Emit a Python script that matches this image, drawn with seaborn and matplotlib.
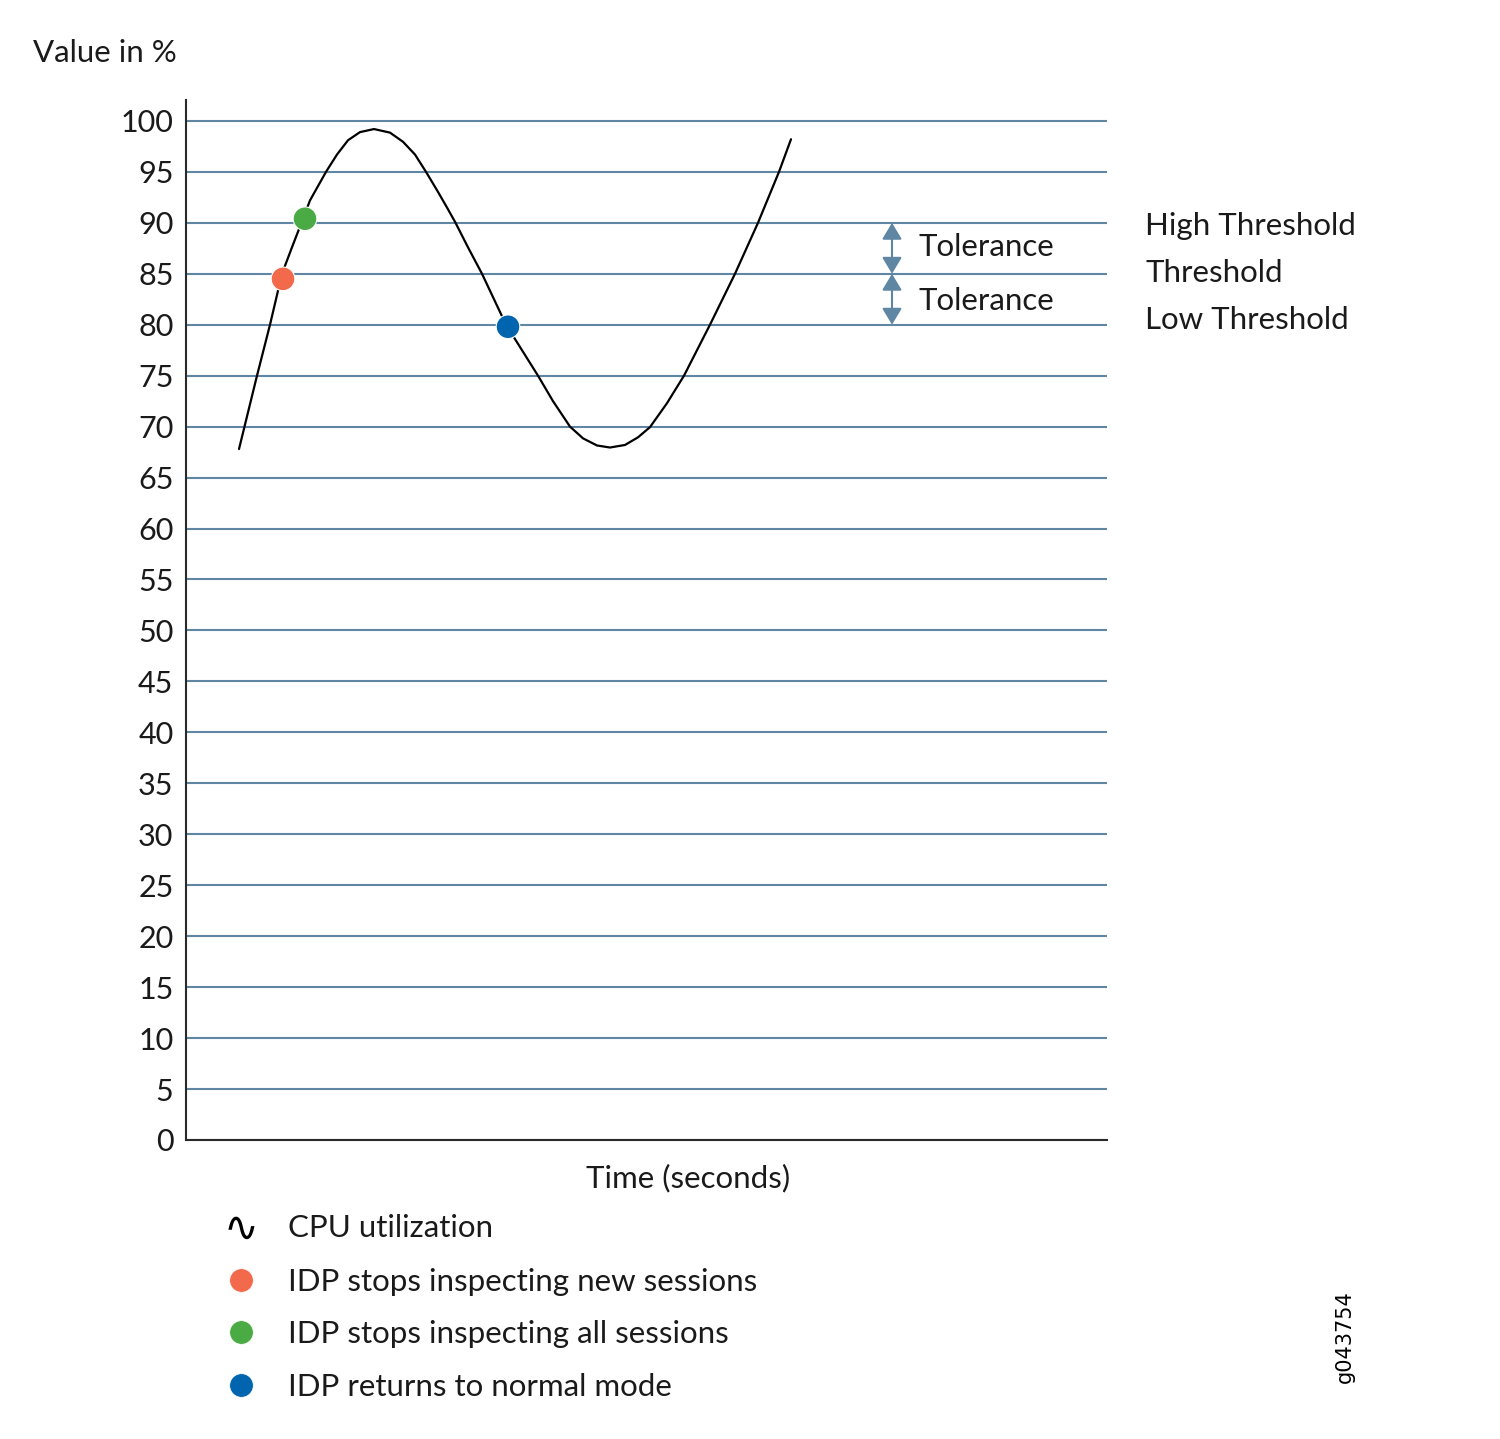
import numpy as np
import pandas as pd
import matplotlib.pyplot as plt
import seaborn as sns

# CPU utilization curve (time in arbitrary units, value in %)
time = [5.3, 7.1, 8.4, 9.6, 10.6, 11.7, 12.4, 13.2, 14.0, 15.1, 16.2, 17.4, 18.8,
        20.4, 21.7, 22.9, 24.0, 25.1, 26.1, 26.9, 28.25, 29.6, 30.8, 32.0, 33.6,
        35.2, 36.7, 38.4, 39.7, 41.1, 42.4, 43.9, 45.2, 46.4, 48.1, 49.8, 51.1,
        52.4, 53.65, 54.9, 56.05, 57.2, 58.25, 59.3, 60.5]
cpu = [67.8, 75.0, 80.0, 85.0, 87.6, 90.4, 92.2, 93.6, 95.0, 96.7, 98.1, 98.9, 99.2,
       98.85, 97.95, 96.7, 95.0, 93.2, 91.5, 90.1, 87.5, 85.0, 82.5, 80.0, 77.5,
       75.0, 72.5, 70.0, 68.85, 68.15, 67.95, 68.2, 68.95, 69.95, 72.3, 75.0, 77.5,
       80.0, 82.5, 85.0, 87.5, 90.0, 92.5, 95.0, 98.2]

# event markers
event_time = [9.7, 11.9, 32.2]
event_value = [84.5, 90.4, 79.8]
event_labels = ["IDP stops inspecting new sessions",
                "IDP stops inspecting all sessions",
                "IDP returns to normal mode"]
event_colors = ["#f2694b", "#4aaa43", "#0065ae"]

# thresholds
high_threshold = 90
threshold = 85
low_threshold = 80
yticks = list(range(0, 101, 5))

grid_color = "#5f86a2"
text_color = "#1a1a1a"
fs = 22.5

sns.set_theme(style="white")
plt.rcParams["font.family"] = ["Lato", "DejaVu Sans"]

fig = plt.figure(figsize=(15, 14.39), dpi=100)
ax = fig.add_axes([0.124, 0.2078, 0.614, 0.7227])

curve = pd.DataFrame({"time": time, "cpu": cpu})
events = pd.DataFrame({"time": event_time, "value": event_value, "label": event_labels})

sns.lineplot(data=curve, x="time", y="cpu", color="black", linewidth=1.6,
             estimator=None, sort=False, ax=ax, zorder=3)
ax.lines[-1].set_solid_joinstyle("round")
sns.scatterplot(data=events, x="time", y="value", hue="label", palette=event_colors,
                s=290, edgecolor="white", linewidth=0.8, legend=False, ax=ax, zorder=4)

ax.set_xlim(0, 92.1)
ax.set_ylim(0, 102.05)
ax.set_yticks(yticks)
ax.set_xticks([])
ax.set_xlabel("")
ax.set_ylabel("")
ax.tick_params(axis="y", length=0, pad=9, labelsize=22, labelcolor=text_color)
ax.yaxis.grid(True, color=grid_color, linewidth=1.5)
ax.set_axisbelow(True)

for side in ["top", "right"]:
    ax.spines[side].set_visible(False)
for side in ["left", "bottom"]:
    ax.spines[side].set_color("#2a2a2a")
    ax.spines[side].set_linewidth(1.5)

# tolerance arrows
arrow_x = 70.6
for lo, hi in [(threshold, high_threshold), (low_threshold, threshold)]:
    ax.annotate("", xy=(arrow_x, hi), xytext=(arrow_x, lo),
                arrowprops=dict(arrowstyle="<|-|>,head_length=0.5,head_width=0.3",
                                color=grid_color, lw=1.5, shrinkA=0, shrinkB=0,
                                mutation_scale=20))
ax.text(73.2, 86.75, "Tolerance", fontsize=fs, va="baseline", color=text_color)
ax.text(73.2, 81.45, "Tolerance", fontsize=fs, va="baseline", color=text_color)

# threshold labels to the right
ax.text(95.9, 88.8, "High Threshold", fontsize=fs, va="baseline", clip_on=False, color=text_color)
ax.text(95.9, 84.2, "Threshold", fontsize=fs, va="baseline", clip_on=False, color=text_color)
ax.text(95.9, 79.6, "Low Threshold", fontsize=fs, va="baseline", clip_on=False, color=text_color)

# axis titles
fig.text(0.022, 0.957, "Value in %", fontsize=fs, va="baseline", color=text_color)
fig.text(0.4587, 0.1751, "Time (seconds)", fontsize=fs, ha="center", va="baseline", color=text_color)

# legend below the chart
fig.text(0.1607, 0.1460, "\u223f", fontsize=30, ha="center", va="center",
         family="DejaVu Sans", color="black")
fig.text(0.192, 0.1404, "CPU utilization", fontsize=fs, va="baseline", color=text_color)
leg_y = [1280, 1332, 1385]
for py, lab, col in zip(leg_y, event_labels, event_colors):
    fig.lines.append(plt.Line2D([241 / 1500], [(1439 - py) / 1439], marker="o",
                                markersize=17, color=col, markeredgecolor="white",
                                markeredgewidth=0.5, transform=fig.transFigure))
    fig.text(0.192, (1439 - py - 11) / 1439, lab, fontsize=fs, va="baseline", color=text_color)

fig.text(1345 / 1500, (1439 - 1337) / 1439, "g043754", fontsize=15, rotation=90,
         ha="center", va="center", family="DejaVu Sans", color="black")

fig.savefig("out.png", dpi=100, facecolor="white")
